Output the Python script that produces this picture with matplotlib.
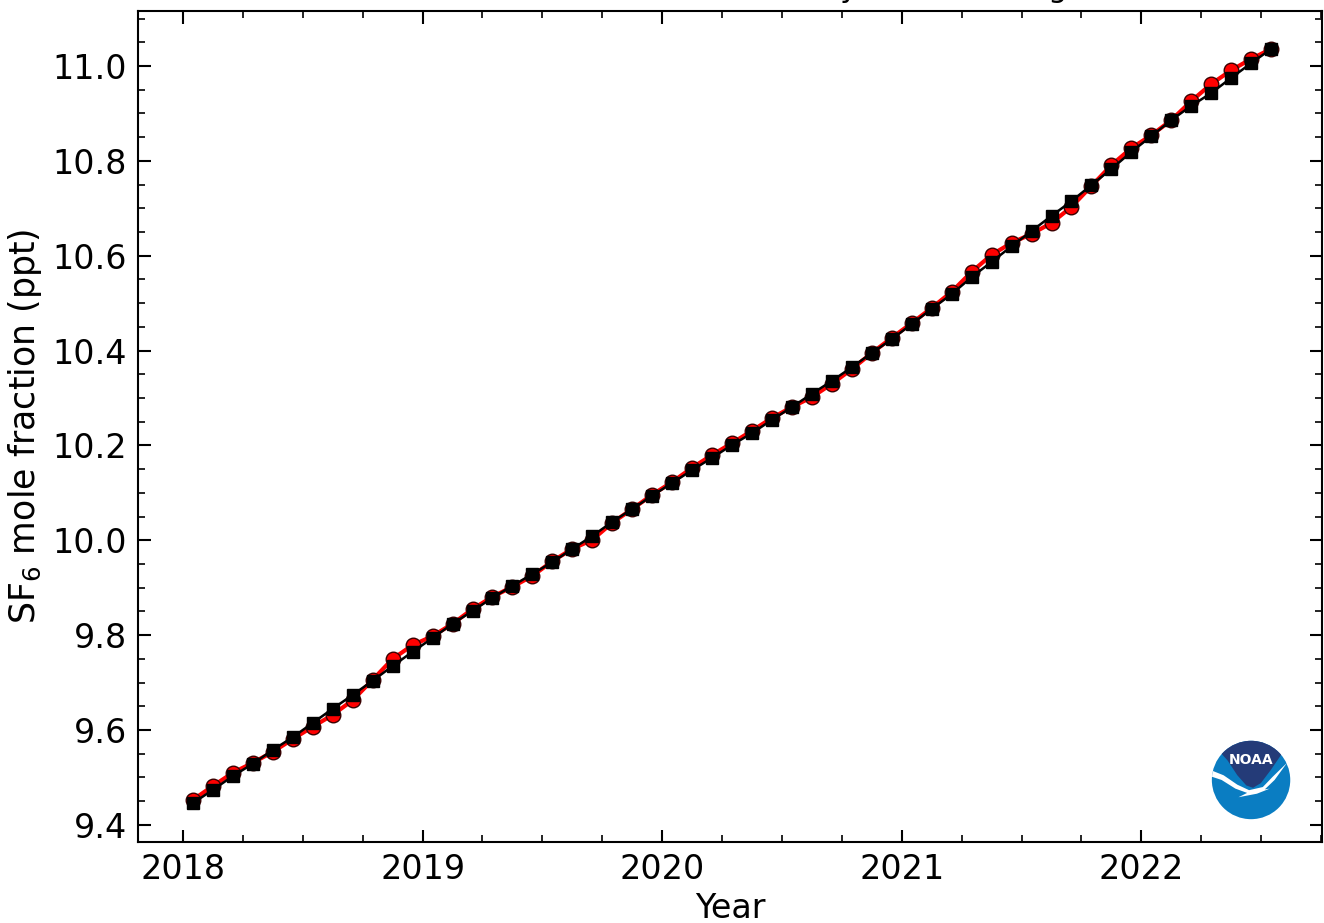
import matplotlib
matplotlib.use("Agg")
import matplotlib.pyplot as plt
from matplotlib.ticker import MultipleLocator, FormatStrFormatter
from matplotlib.patches import Circle, Polygon
import numpy as np

# monthly SF6, Jan 2018 .. Jul 2022
years = np.arange(2018, 2023)
monthly = [9.453, 9.482, 9.510, 9.531, 9.554, 9.581, 9.607, 9.632, 9.663, 9.706, 9.750, 9.779,
           9.798, 9.824, 9.855, 9.881, 9.902, 9.925, 9.956, 9.982, 10.001, 10.037, 10.066, 10.096,
           10.123, 10.153, 10.180, 10.205, 10.231, 10.258, 10.281, 10.302, 10.330, 10.361, 10.395, 10.427,
           10.458, 10.490, 10.524, 10.566, 10.602, 10.627, 10.646, 10.669, 10.703, 10.747, 10.791, 10.827,
           10.854, 10.886, 10.926, 10.962, 10.991, 11.015, 11.036]
trend = [9.446, 9.474, 9.503, 9.529, 9.558, 9.585, 9.615, 9.645, 9.674, 9.704, 9.735, 9.765,
         9.794, 9.824, 9.851, 9.879, 9.904, 9.929, 9.954, 9.982, 10.009, 10.039, 10.066, 10.094,
         10.121, 10.148, 10.174, 10.201, 10.226, 10.254, 10.281, 10.309, 10.336, 10.365, 10.395, 10.424,
         10.456, 10.488, 10.519, 10.555, 10.587, 10.620, 10.652, 10.684, 10.715, 10.749, 10.783, 10.819,
         10.852, 10.886, 10.916, 10.943, 10.975, 11.006, 11.036]

n = len(monthly)
dates = 2018 + (np.arange(n) + 0.5) / 12.0

plt.rcParams['font.size'] = 24

fig = plt.figure(figsize=(13.24, 9.23), dpi=100)
ax = fig.add_axes([0.1042, 0.0878, 0.8943, 0.9003])

ax.plot(dates, monthly, color='red', linewidth=3, marker='o', markersize=10.5,
        markerfacecolor='red', markeredgecolor='#3a0000', markeredgewidth=1, zorder=2)
ax.plot(dates, trend, color='black', linewidth=1.8, marker='s', markersize=8,
        markerfacecolor='black', markeredgecolor='black', zorder=3)

ax.set_xlim(2017.812, 2022.754)
ax.set_ylim(9.364, 11.116)
ax.set_xticks(years)
ax.xaxis.set_minor_locator(MultipleLocator(0.25))
ax.yaxis.set_major_locator(MultipleLocator(0.2))
ax.yaxis.set_minor_locator(MultipleLocator(0.05))
ax.yaxis.set_major_formatter(FormatStrFormatter('%.1f'))
ax.tick_params(which='both', direction='in', top=True, right=True)
ax.tick_params(which='major', length=9, width=1.5, pad=8)
ax.tick_params(which='minor', length=5, width=1.2)
for s in ax.spines.values():
    s.set_linewidth(1.5)

ax.set_xlabel('Year', labelpad=4)
ax.set_ylabel('SF$_6$ mole fraction (ppt)', fontsize=25, labelpad=6)

# title sits mostly above the canvas, only descenders show
fig.text(0.475, 1.003, 'Global Monthly Mean Averaged Data', ha='left', va='baseline', fontsize=22)

# NOAA logo
lax = fig.add_axes([0.9147, 0.1116, 0.0604, 0.0867])
lax.set_xlim(-1.02, 1.02)
lax.set_ylim(-1.02, 1.02)
lax.set_aspect('equal')
lax.axis('off')
disc = Circle((0, 0), 1.0, facecolor='#0a7dc2', edgecolor='none')
lax.add_patch(disc)
navy = Polygon([(-1.3, 0.9), (-0.82, 0.74), (-0.6, 0.5), (-0.35, 0.12), (-0.12, -0.14), (0.05, -0.2),
                (0.25, -0.08), (0.5, 0.25), (0.78, 0.66), (1.3, 0.85), (1.3, 1.3), (-1.3, 1.3)],
               facecolor='#243b78', edgecolor='none')
lax.add_patch(navy)
navy.set_clip_path(disc)
wing = Polygon([(-1.2, 0.32), (-0.7, 0.12), (-0.35, -0.12), (-0.05, -0.26), (0.3, -0.18), (0.55, 0.08),
                (0.92, 0.44), (0.6, 0.0), (0.35, -0.24), (0.48, -0.22), (0.15, -0.35), (-0.32, -0.44),
                (-0.1, -0.33), (-0.4, -0.22), (-0.75, 0.0), (-1.2, 0.15)],
               facecolor='white', edgecolor='none')
lax.add_patch(wing)
wing.set_clip_path(disc)
lax.text(0, 0.5, 'NOAA', color='white', fontsize=10, fontweight='bold', ha='center', va='center')

plt.savefig('out.png', dpi=100)
